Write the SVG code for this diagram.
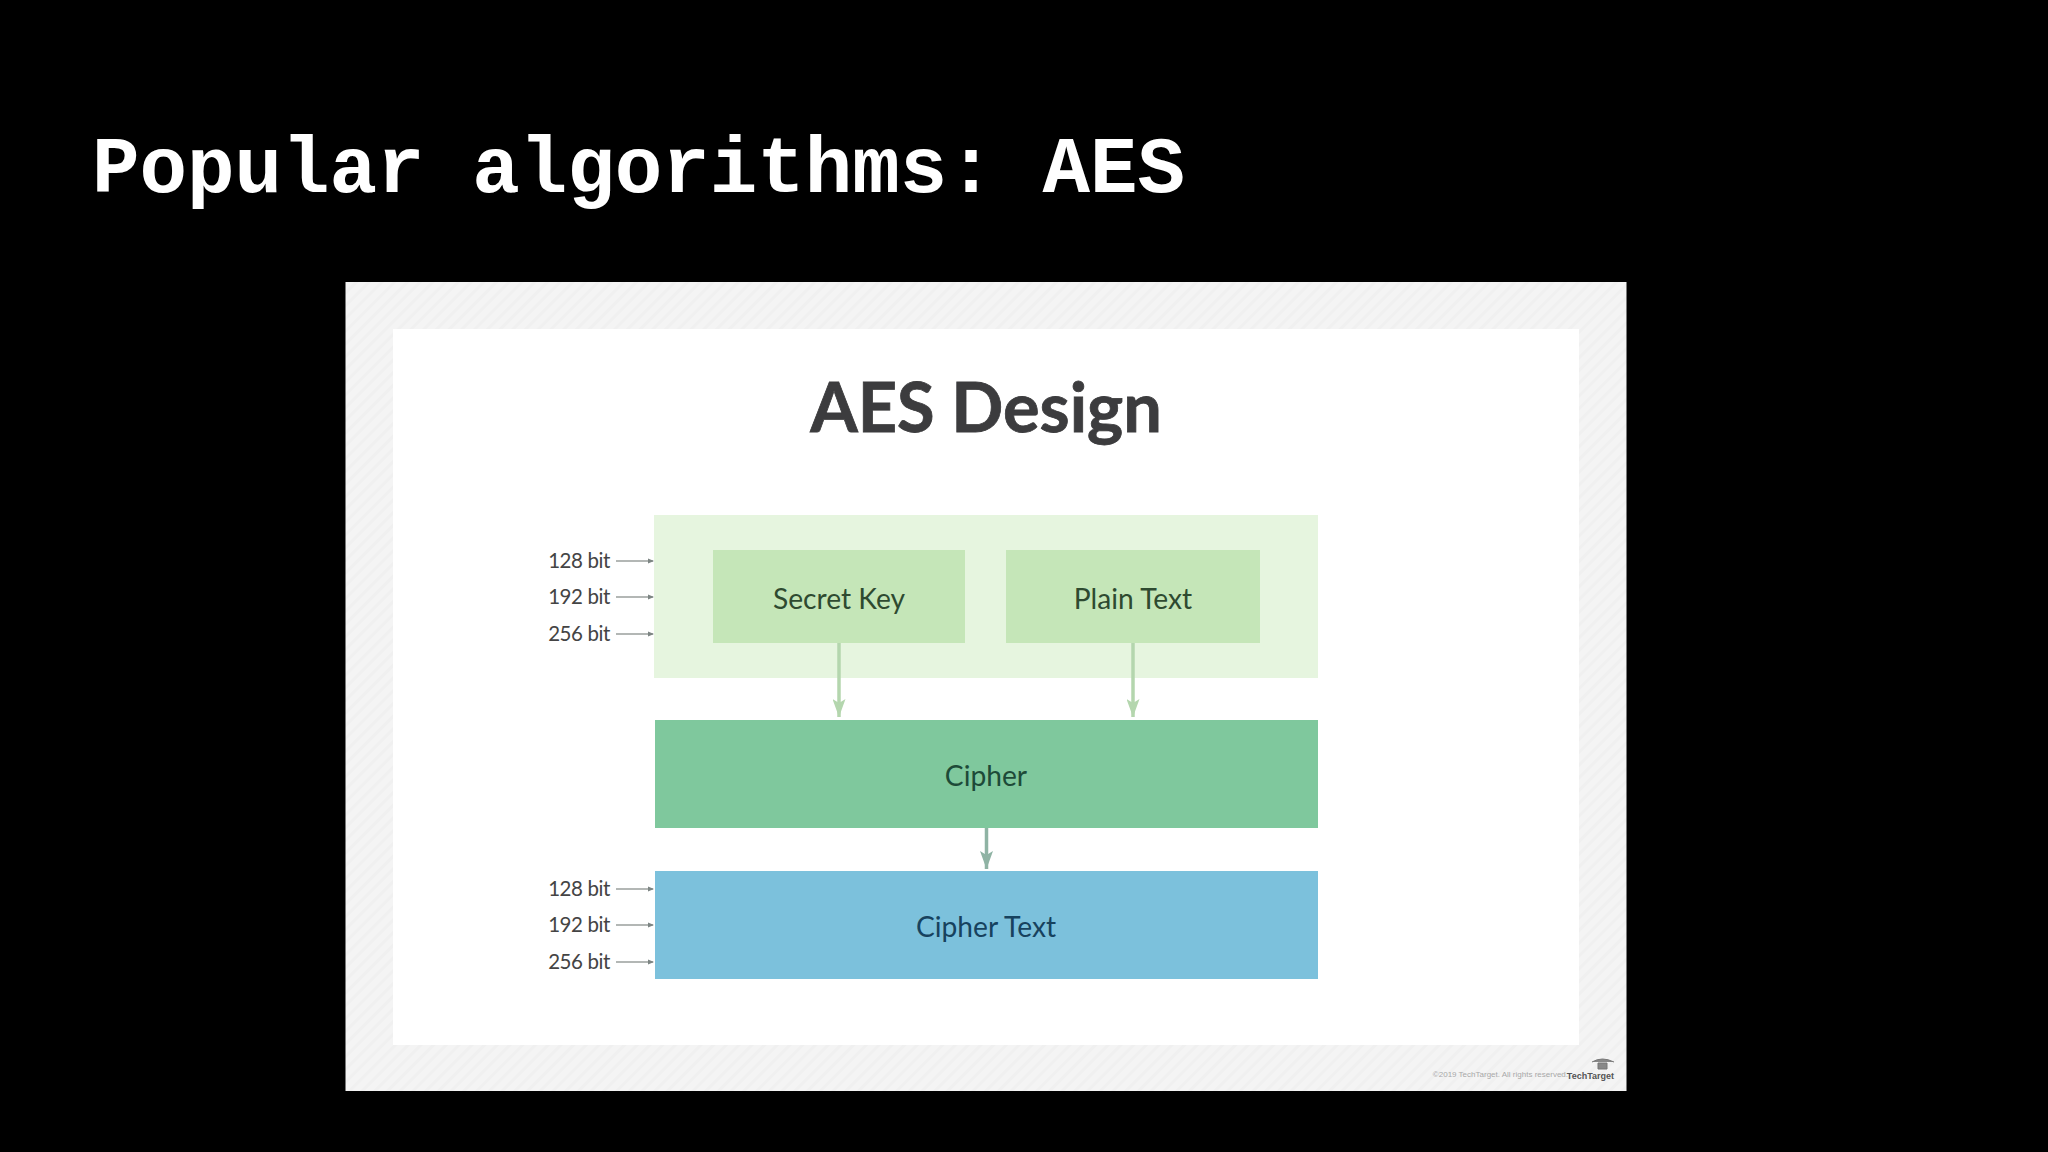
<svg xmlns="http://www.w3.org/2000/svg" width="2048" height="1152" viewBox="0 0 2048 1152">
<style>
.t{font-family:"Lato","Open Sans",sans-serif;text-anchor:middle}
.n{font-size:28.200px}
.b{font-family:"Lato","Open Sans",sans-serif;font-size:20.500px;letter-spacing:-0.4px;fill:#444;text-anchor:end}
.thin{stroke:#9a9f9d;stroke-width:1.600;fill:none;marker-end:url(#s)}
.g{stroke:#b4d6ae;stroke-width:3.500;fill:none;marker-end:url(#lg)}
</style>
<defs>
<pattern id="hatch" width="9" height="9" patternUnits="userSpaceOnUse" patternTransform="rotate(45)">
<rect width="9" height="9" fill="#f4f4f4"/><rect width="3" height="9" fill="#f0f0f0"/>
</pattern>
<marker id="s" viewBox="0 0 6 6" refX="5" refY="3" markerWidth="6" markerHeight="6" markerUnits="userSpaceOnUse" orient="auto"><path d="M0 0.500L6 3L0 5.500z" fill="#7d8583"/></marker>
<marker id="lg" viewBox="0 0 18 13" refX="18" refY="6.500" markerWidth="18" markerHeight="13" markerUnits="userSpaceOnUse" orient="auto"><path d="M0 0L18 6.500L0 13L4 6.500z" fill="#b4d6ae"/></marker>
<marker id="dg" viewBox="0 0 18 13" refX="18" refY="6.500" markerWidth="18" markerHeight="13" markerUnits="userSpaceOnUse" orient="auto"><path d="M0 0L18 6.500L0 13L4 6.500z" fill="#8fb3a4"/></marker>
</defs>
<rect width="2048" height="1152" fill="#000"/>
<text x="92" y="192" font-family="'Liberation Mono',monospace" font-weight="700" font-size="79.200" fill="#fff" xml:space="preserve">Popular algorithms: AES</text>
<rect x="345.500" y="282" width="1281" height="809" fill="url(#hatch)"/>
<rect x="393" y="329" width="1186" height="716" fill="#fff"/>
<text class="t" x="986" y="432" font-size="68.500" font-weight="700" fill="#3c3c3e" stroke="#3c3c3e" stroke-width="0.800">AES Design</text>
<g id="input">
<rect x="654" y="515" width="664" height="163" fill="#e6f5df"/>
</g>
<g id="secret-key">
<rect x="713" y="550" width="252" height="93" fill="#c5e6b8"/>
<text class="t n" x="839" y="609" fill="#2e4a30">Secret Key</text>
</g>
<g id="plain-text">
<rect x="1006" y="550" width="254" height="93" fill="#c5e6b8"/>
<text class="t n" x="1133" y="609" fill="#2e4a30">Plain Text</text>
</g>
<g id="cipher">
<rect x="655" y="720" width="663" height="108" fill="#7fc89d"/>
<text class="t n" x="986" y="786" fill="#1d4a38">Cipher</text>
</g>
<g id="cipher-text">
<rect x="655" y="871" width="663" height="108" fill="#7cc1dc"/>
<text class="t n" x="986" y="937" fill="#17425e">Cipher Text</text>
</g>
<g id="sizes-in">
<text class="b" x="610" y="568">128 bit</text>
<text class="b" x="610" y="604">192 bit</text>
<text class="b" x="610" y="641">256 bit</text>
</g>
<g id="sizes-out">
<text class="b" x="610" y="896">128 bit</text>
<text class="b" x="610" y="932">192 bit</text>
<text class="b" x="610" y="969">256 bit</text>
</g>
<g id="connectors">
<path class="thin" d="M616 561H653"/>
<path class="thin" d="M616 597H653"/>
<path class="thin" d="M616 634H653"/>
<path class="thin" d="M616 889H653"/>
<path class="thin" d="M616 925H653"/>
<path class="thin" d="M616 962H653"/>
<path class="g" d="M839 643V717"/>
<path class="g" d="M1133 643V717"/>
<path d="M986.500 828V869" stroke="#8fb3a4" stroke-width="3.500" fill="none" marker-end="url(#dg)"/>
</g>
<g id="credit">
<text x="1568" y="1077" font-family="'Liberation Sans',sans-serif" font-size="8" fill="#a8a8a8" text-anchor="end">©2019 TechTarget. All rights reserved.</text>
<text x="1614" y="1079" font-family="'Liberation Sans',sans-serif" font-size="9" font-weight="700" fill="#555" text-anchor="end">TechTarget</text>
<path d="M1592 1062Q1602 1056 1614 1062M1598 1063h9v6h-9z" fill="#888" stroke="#777" stroke-width="1"/>
</g>
</svg>
